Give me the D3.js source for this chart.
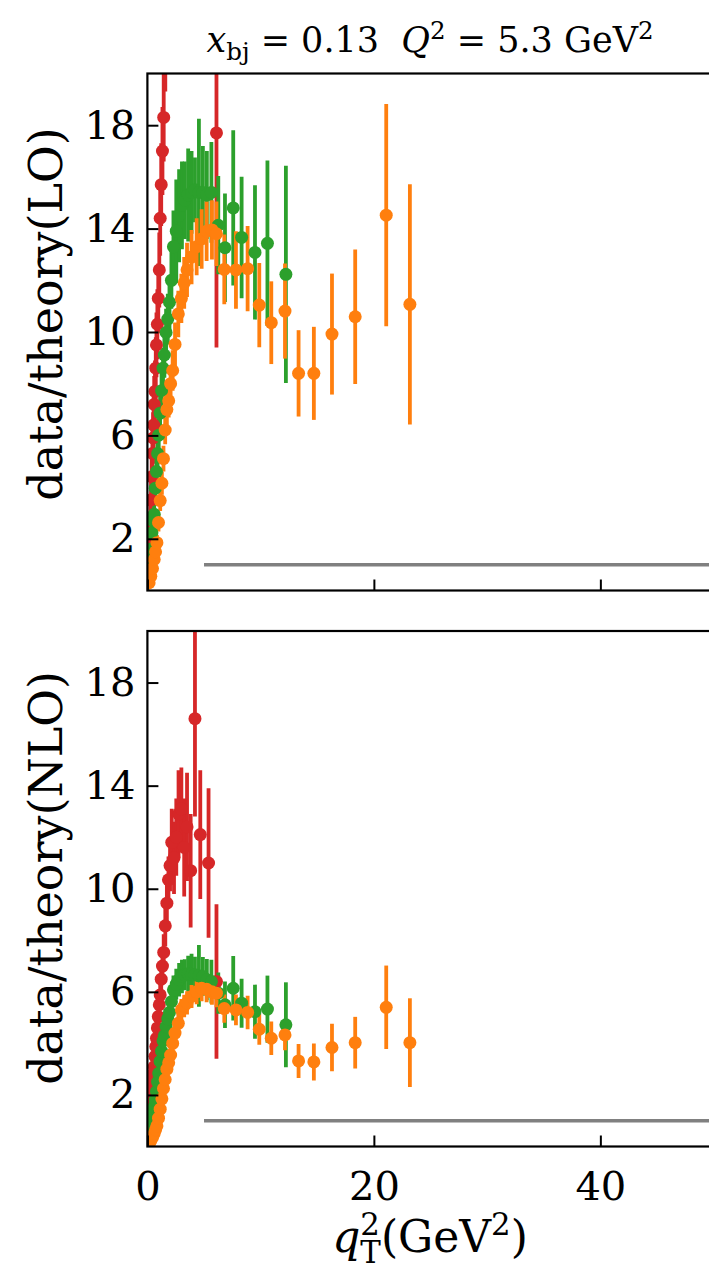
<!DOCTYPE html>
<html>
<head>
<meta charset="utf-8">
<script src="https://cdn.jsdelivr.net/npm/d3@7"></script>
<style>
  html, body { margin: 0; padding: 0; background: #fff; }
  svg { display: block; }
  text { font-family: "DejaVu Serif", serif; fill: #000; }
</style>
</head>
<body>
<svg id="chart" width="709" height="1272"></svg>
<script>
// q_T^2 bins (GeV^2) and data/theory ratios for each hadron-z bin
const redQ = [0.02,0.08,0.14,0.2,0.26,0.32,0.38,0.44,0.5,0.55,0.6,0.67,0.74,0.8,0.88,0.96,1.05,1.13,1.22,1.33,1.44,1.58,1.72,1.86,2.0,2.15,2.35,2.55,2.75,3.0,3.25,3.5,3.82,4.2,4.67,5.4,6.1];
const redLO = [0.4,1.0,1.6,2.1,2.8,3.5,4.4,5.3,5.9,6.4,7.2,7.7,8.6,9.5,10.3,11.3,12.4,14.4,15.7,17.0,18.3,21.3,23.5,25.8,27.1,29.3,27.8,29.8,32.0,32.6,29.0,31.0,26.8,41.5,30.5,27.8,17.7];
const redLOerr = [0.35,0.5,0.6,0.7,0.75,0.85,0.85,1.0,1.0,1.1,1.1,1.2,1.2,1.25,1.35,1.35,1.45,1.45,1.6,1.7,1.7,2.0,2.1,2.2,2.5,3.2,3.4,3.7,4.2,4.0,4.7,5.2,5.5,9.5,6.3,7.3,8.3];
const redNLO = [0.3,0.7,1.03,1.3,1.55,1.8,2.07,2.35,2.58,2.85,3.1,3.5,3.88,4.2,4.6,5.04,5.5,5.88,6.49,7.0,7.53,8.56,9.44,10.35,10.9,11.8,11.2,12.0,12.9,13.1,11.6,12.4,10.7,16.6,12.1,11.0,6.4];
const redNLOerr = [0.15,0.2,0.25,0.3,0.3,0.35,0.35,0.4,0.4,0.45,0.45,0.5,0.5,0.5,0.55,0.55,0.6,0.6,0.65,0.7,0.7,0.8,0.85,0.9,1.0,1.3,1.4,1.5,1.7,1.6,1.9,2.1,2.2,3.8,2.5,2.9,3.0];

const greenQ = [0.1,0.2,0.3,0.4,0.5,0.6,0.7,0.8,0.9,1.0,1.12,1.25,1.38,1.5,1.65,1.8,1.95,2.12,2.3,2.55,2.8,3.05,3.3,3.6,3.9,4.2,4.55,4.9,5.25,5.65,6.26,6.85,7.58,8.32,9.5,10.6,12.23];
const greenLO = [0.6,1.15,1.6,2.23,2.7,2.95,3.96,4.6,5.3,6.01,6.86,7.73,8.6,9.11,9.98,10.5,11.15,12.0,13.3,13.9,14.5,14.9,15.1,15.3,15.4,15.5,15.4,15.4,15.3,15.4,14.13,13.26,14.8,13.66,13.08,13.43,12.23];
const greenLOerr = [0.12,0.18,0.22,0.27,0.33,0.38,0.45,0.5,0.55,0.62,0.66,0.72,0.78,0.88,0.92,0.98,1.05,1.1,1.4,2.0,1.8,1.7,1.5,1.8,1.6,1.25,2.85,1.8,1.7,1.95,1.9,2.1,3.0,2.35,2.6,3.2,4.2];
const greenNLO = [0.3,0.55,0.8,1.05,1.3,1.55,1.8,2.13,2.5,2.84,3.3,3.7,4.1,4.3,4.65,4.95,5.2,5.62,6.08,6.3,6.47,6.6,6.66,6.7,6.68,6.66,6.62,6.6,6.47,6.4,5.95,5.5,6.14,5.56,5.23,5.33,4.72];
const greenNLOerr = [0.05,0.08,0.1,0.12,0.15,0.17,0.2,0.22,0.25,0.28,0.3,0.33,0.36,0.4,0.42,0.45,0.48,0.5,0.55,0.6,0.65,0.65,0.6,0.7,0.8,0.7,1.2,0.75,0.8,0.85,0.8,0.9,1.25,0.95,1.05,1.3,1.65];

const orangeQ = [0.15,0.3,0.45,0.6,0.72,0.84,0.98,1.13,1.28,1.42,1.57,1.72,1.88,2.05,2.23,2.44,2.73,3.0,3.25,3.5,3.9,4.35,4.79,5.23,5.7,6.1,6.79,7.82,8.85,9.88,10.94,12.15,13.35,14.7,16.3,18.35,21.09,23.18];
const orangeLO = [0.3,0.55,0.85,1.2,1.5,1.85,2.63,3.48,4.15,5.1,6.21,7.0,7.34,8.0,8.51,9.52,10.7,11.3,11.9,12.4,12.9,13.3,13.6,13.9,13.95,13.8,12.42,12.4,12.45,11.04,10.36,10.81,8.4,8.4,9.92,10.59,14.52,11.07];
const orangeLOerr = [0.08,0.12,0.16,0.2,0.25,0.3,0.35,0.4,0.45,0.5,0.55,0.6,0.65,0.7,0.78,0.85,0.9,0.95,1.0,1.05,1.05,1.1,1.15,1.15,1.15,1.25,1.35,1.5,1.65,1.63,1.6,1.84,1.67,1.8,2.34,2.6,4.3,4.65];
const orangeNLO = [0.1,0.22,0.35,0.5,0.65,0.8,1.1,1.45,1.85,2.25,2.6,3.0,3.25,3.55,4.0,4.4,4.78,5.3,5.45,5.57,5.82,6.0,6.14,6.1,6.0,5.95,5.35,5.3,5.2,4.55,4.2,4.33,3.32,3.28,3.84,4.03,5.4,4.03];
const orangeNLOerr = [0.03,0.05,0.07,0.09,0.11,0.13,0.15,0.18,0.2,0.23,0.25,0.28,0.3,0.32,0.35,0.38,0.4,0.42,0.44,0.45,0.45,0.48,0.5,0.5,0.5,0.55,0.55,0.6,0.65,0.6,0.65,0.6,0.66,0.72,0.92,1.0,1.62,1.72];

// unit reference line drawn over the large-q_T region
const refLineQ = [5, 50];
const refLineValue = 1;

const xDomain = [0, 50];
const yDomain = [0, 20];
const xTicks = [0, 20, 40];
const yTicks = [2, 6, 10, 14, 18];

const series = [
  { name: "red",    color: "#d62728", q: redQ,    LO: redLO,    LOerr: redLOerr,    NLO: redNLO,    NLOerr: redNLOerr },
  { name: "green",  color: "#2ca02c", q: greenQ,  LO: greenLO,  LOerr: greenLOerr,  NLO: greenNLO,  NLOerr: greenNLOerr },
  { name: "orange", color: "#ff7f0e", q: orangeQ, LO: orangeLO, LOerr: orangeLOerr, NLO: orangeNLO, NLOerr: orangeNLOerr }
];

const svg = d3.select("#chart");
const left = 147.4, right = 713.6;
const x = d3.scaleLinear().domain(xDomain).range([left, right]);

const panels = [
  { key: "LO",  top: 73.5, bottom: 590.5, label: "data/theory(LO)",  labelY: 314, showX: false },
  { key: "NLO", top: 631,  bottom: 1146.5, label: "data/theory(NLO)", labelY: 878, showX: true }
];

panels.forEach((p, pi) => {
  const y = d3.scaleLinear().domain(yDomain).range([p.bottom, p.top]);
  const g = svg.append("g");
  const clipId = "clip" + pi;
  svg.append("defs").append("clipPath").attr("id", clipId)
    .append("rect").attr("x", left).attr("y", p.top)
    .attr("width", right - left).attr("height", p.bottom - p.top);

  const plot = g.append("g").attr("clip-path", `url(#${clipId})`);

  // reference line at ratio 1
  plot.append("line")
    .attr("x1", x(refLineQ[0])).attr("x2", x(refLineQ[1]))
    .attr("y1", y(refLineValue)).attr("y2", y(refLineValue))
    .attr("stroke", "#808080").attr("stroke-width", 3.5);

  // error bars for all series, then markers on top
  series.forEach(s => {
    const vals = s[p.key], errs = s[p.key + "err"];
    plot.append("g").selectAll("line").data(s.q).join("line")
      .attr("x1", d => x(d)).attr("x2", d => x(d))
      .attr("y1", (d, i) => y(vals[i] - errs[i]))
      .attr("y2", (d, i) => y(vals[i] + errs[i]))
      .attr("stroke", s.color).attr("stroke-width", 3.8);
  });
  series.forEach(s => {
    const vals = s[p.key];
    plot.append("g").selectAll("circle").data(s.q).join("circle")
      .attr("cx", d => x(d)).attr("cy", (d, i) => y(vals[i]))
      .attr("r", 6.5).attr("fill", s.color);
  });

  // frame
  g.append("rect").attr("x", left).attr("y", p.top)
    .attr("width", right - left).attr("height", p.bottom - p.top)
    .attr("fill", "none").attr("stroke", "#000").attr("stroke-width", 2.2);

  // y axis with inward ticks
  const ya = g.append("g").attr("transform", `translate(${left},0)`)
    .call(d3.axisLeft(y).tickValues(yTicks).tickSizeInner(-11).tickSizeOuter(0).tickPadding(12));
  ya.select(".domain").remove();
  ya.selectAll(".tick line").attr("stroke", "#000").attr("stroke-width", 2);
  ya.selectAll(".tick text").attr("font-size", 40).attr("font-family", "DejaVu Serif").attr("fill", "#000");

  // x axis with inward ticks
  const xa = g.append("g").attr("transform", `translate(0,${p.bottom})`)
    .call(d3.axisBottom(x).tickValues(xTicks).tickSizeInner(-11).tickSizeOuter(0).tickPadding(25));
  xa.select(".domain").remove();
  xa.selectAll(".tick line").attr("stroke", "#000").attr("stroke-width", 2);
  xa.selectAll(".tick text").attr("font-size", 40).attr("font-family", "DejaVu Serif").attr("fill", "#000");
  if (!p.showX) xa.selectAll(".tick text").remove();

  // y label
  svg.append("text")
    .attr("transform", `translate(62,${p.labelY}) rotate(-90)`)
    .attr("text-anchor", "middle")
    .attr("font-size", 46)
    .text(p.label);
});

// title: x_bj = 0.13  Q^2 = 5.3 GeV^2
const ts = 35;
const title = svg.append("text")
  .attr("x", 430).attr("y", 52).attr("text-anchor", "middle")
  .attr("font-size", ts).style("white-space", "pre");
title.append("tspan").attr("font-style", "italic").text("x");
title.append("tspan").attr("font-size", ts * 0.7).attr("dy", ts * 0.22).text("bj");
title.append("tspan").attr("dy", -ts * 0.22).text(" = 0.13  ");
title.append("tspan").attr("font-style", "italic").text("Q");
title.append("tspan").attr("font-size", ts * 0.7).attr("dy", -ts * 0.38).text("2");
title.append("tspan").attr("dy", ts * 0.38).text(" = 5.3 GeV");
title.append("tspan").attr("font-size", ts * 0.7).attr("dy", -ts * 0.38).text("2");

// x label: q_T^2 (GeV^2) with sub- and superscript stacked
const ls = 44;
const xl = svg.append("text")
  .attr("x", 430).attr("y", 1252).attr("text-anchor", "middle")
  .attr("font-size", ls).style("white-space", "pre");
xl.append("tspan").attr("font-style", "italic").text("q");
const sub = xl.append("tspan").attr("font-size", ls * 0.7).attr("dy", ls * 0.24).text("T");
const supT = xl.append("tspan").attr("font-size", ls * 0.7).attr("dy", -ls * 0.62).text("2");
const wSub = sub.node().getComputedTextLength();
const wSup = supT.node().getComputedTextLength();
supT.attr("dx", -wSub);
xl.append("tspan").attr("dx", Math.max(0, wSub - wSup)).attr("dy", ls * 0.38).text("(GeV");
xl.append("tspan").attr("font-size", ls * 0.7).attr("dy", -ls * 0.38).text("2");
xl.append("tspan").attr("dy", ls * 0.38).text(")");
</script>
</body>
</html>
